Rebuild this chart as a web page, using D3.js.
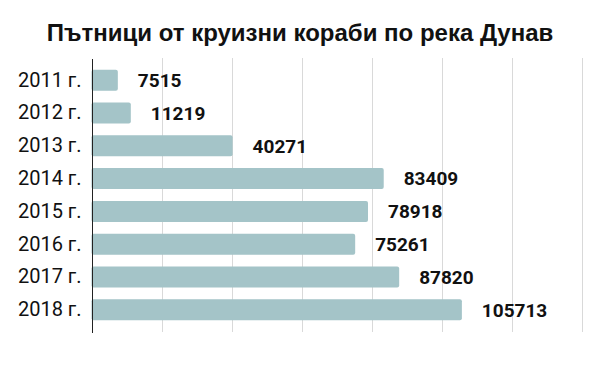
<!doctype html>
<html>
<head>
    <meta charset="utf-8">
    <style>
        body { margin: 0; background: #fff; }
        #chart text { fill: #111; }
        .grid line { stroke: #d9d9d9; stroke-width: 1; shape-rendering: crispEdges; }
        .grid .domain { display: none; }
        .y-axis .domain { stroke: #222; shape-rendering: crispEdges; }
        .y-axis .tick line { display: none; }
        .y-axis text { font-family: Roboto, sans-serif; font-size: 20px; fill: #1a1a1a; }
        .bar { fill: #a4c4c8; }
        .value { font-family: Roboto, sans-serif; font-size: 19px; font-weight: bold; }
        .title { font-family: "Liberation Sans", Arial, sans-serif; font-size: 24px; font-weight: bold; }
    </style>
</head>
<body>
    <svg id="chart"></svg>
    <script src="https://cdnjs.cloudflare.com/ajax/libs/d3/7.8.5/d3.min.js"></script>
    <script>
        var years = ['2011 г.', '2012 г.', '2013 г.', '2014 г.', '2015 г.', '2016 г.', '2017 г.', '2018 г.'];
        var passengers = [7515, 11219, 40271, 83409, 78918, 75261, 87820, 105713];
        var xTicks = [0, 20000, 40000, 60000, 80000, 100000, 120000, 140000];
        var title = 'Пътници от круизни кораби по река Дунав';

        var width = 600;
        var height = 371;
        var margin = { top: 58, right: 18, bottom: 39, left: 91.5 };

        var svg = d3.select('#chart')
                .attr('width', width)
                .attr('height', height);

        var x = d3.scaleLinear().domain([0, 140000]).range([margin.left, width - margin.right]);
        var y = d3.scaleBand().domain(years).range([margin.top, height - margin.bottom]).padding(0.36);

        svg.append('text')
                .attr('class', 'title')
                .attr('x', 300)
                .attr('y', 41)
                .attr('text-anchor', 'middle')
                .text(title);

        // vertical grid lines
        svg.append('g')
                .attr('class', 'grid')
                .attr('transform', 'translate(0,' + margin.top + ')')
                .call(d3.axisBottom(x).tickValues(xTicks.slice(1)).tickSize(height - margin.bottom - margin.top).tickFormat(''));

        svg.selectAll('rect.bar')
                .data(passengers)
                .enter().append('rect')
                .attr('class', 'bar')
                .attr('x', x(0))
                .attr('y', function(d, i) { return y(years[i]) })
                .attr('width', function(d) { return x(d) - x(0) })
                .attr('height', y.bandwidth())
                .attr('rx', 2);

        svg.selectAll('text.value')
                .data(passengers)
                .enter().append('text')
                .attr('class', 'value')
                .attr('x', function(d) { return x(d) + 20 })
                .attr('y', function(d, i) { return y(years[i]) + y.bandwidth() / 2 })
                .attr('dy', '0.36em')
                .text(function(d) { return d });

        svg.append('g')
                .attr('class', 'y-axis')
                .attr('transform', 'translate(' + x(0) + ',0)')
                .call(d3.axisLeft(y).tickSize(0).tickPadding(10).tickSizeOuter(0));
    </script>
</body>
</html>
